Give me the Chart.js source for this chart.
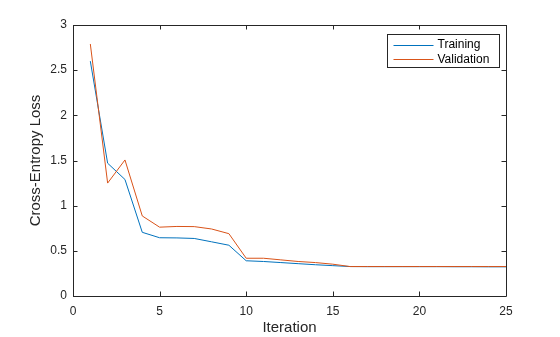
<!DOCTYPE html>
<html>
<head>
<meta charset="utf-8">
<script src="https://cdn.jsdelivr.net/npm/chart.js@4"></script>
<style>
  html, body { margin: 0; padding: 0; background: #ffffff; }
  #lossChart { display: block; }
</style>
</head>
<body>
<canvas id="lossChart" width="560" height="337"></canvas>
<script>
// loss per iteration
var iteraciones = [1, 2, 3, 4, 5, 6, 7, 8, 9, 10, 11, 12, 13, 14, 15, 16, 17, 18, 19, 20, 21, 22, 23, 24, 25];
var perdidaTraining = [2.60, 1.47, 1.29, 0.705, 0.645, 0.643, 0.637, 0.600, 0.562, 0.390, 0.382, 0.370, 0.358, 0.346, 0.336, 0.326, 0.325, 0.325, 0.325, 0.325, 0.325, 0.324, 0.324, 0.323, 0.323];
var perdidaValidation = [2.79, 1.25, 1.506, 0.886, 0.762, 0.770, 0.768, 0.742, 0.690, 0.418, 0.418, 0.400, 0.382, 0.370, 0.352, 0.326, 0.326, 0.326, 0.326, 0.326, 0.326, 0.326, 0.326, 0.326, 0.326];
var ticksX = [0, 5, 10, 15, 20, 25];
var ticksY = [0, 0.5, 1, 1.5, 2, 2.5, 3];

var colorTexto = '#262626';
var fuente = 'Liberation Sans, Arial, Helvetica, sans-serif';

function puntos(valores) {
    return iteraciones.map((it, i) => ({ x: it, y: valores[i] }));
}

// caja de ejes, marcas hacia dentro y leyenda estilo MATLAB
var cajaEjes = {
    id: 'cajaEjes',
    afterDraw: function (chart) {
        var ctx = chart.ctx;
        var a = chart.chartArea;
        var sx = chart.scales.x;
        var sy = chart.scales.y;
        var largo = 4.5;

        ctx.save();
        ctx.strokeStyle = colorTexto;
        ctx.lineWidth = 1;
        ctx.beginPath();
        ctx.rect(Math.round(a.left) + 0.5, Math.round(a.top) + 0.5,
                 Math.round(a.right - a.left), Math.round(a.bottom - a.top));

        ticksX.forEach(function (v) {
            var px = Math.round(sx.getPixelForValue(v)) + 0.5;
            ctx.moveTo(px, a.bottom);
            ctx.lineTo(px, a.bottom - largo);
            ctx.moveTo(px, a.top);
            ctx.lineTo(px, a.top + largo);
        });
        ticksY.forEach(function (v) {
            var py = Math.round(sy.getPixelForValue(v)) + 0.5;
            ctx.moveTo(a.left, py);
            ctx.lineTo(a.left + largo, py);
            ctx.moveTo(a.right, py);
            ctx.lineTo(a.right - largo, py);
        });
        ctx.stroke();

        // leyenda
        var ancho = 112, alto = 33;
        var lx = Math.round(a.right - 7 - ancho) + 0.5;
        var ly = Math.round(a.top + 9) + 0.5;
        ctx.fillStyle = '#ffffff';
        ctx.fillRect(lx, ly, ancho, alto);
        ctx.strokeStyle = colorTexto;
        ctx.strokeRect(lx, ly, ancho, alto);

        ctx.font = '12px ' + fuente;
        ctx.textBaseline = 'middle';
        ctx.textAlign = 'left';
        chart.data.datasets.forEach(function (ds, i) {
            var y = ly + 10 + i * 14.5;
            ctx.strokeStyle = ds.borderColor;
            ctx.beginPath();
            ctx.moveTo(lx + 6, Math.round(y) + 0.5);
            ctx.lineTo(lx + 46, Math.round(y) + 0.5);
            ctx.stroke();
            ctx.fillStyle = '#000000';
            ctx.fillText(ds.label, lx + 50, y + 0.5);
        });
        ctx.restore();
    }
};

var ctx = document.getElementById('lossChart').getContext('2d');
var chart = new Chart(ctx, {
    type: 'line',
    data: {
        datasets: [{
                label: 'Training',
                data: puntos(perdidaTraining),
                borderColor: '#0072BD',
                borderWidth: 1,
                order: 1
            }, {
                label: 'Validation',
                data: puntos(perdidaValidation),
                borderColor: '#D95319',
                borderWidth: 1,
                order: 0
            }]
    },
    options: {
        responsive: false,
        animation: false,
        devicePixelRatio: 1,
        layout: {
            padding: { left: 0, top: 25, right: 54, bottom: 0 }
        },
        elements: {
            point: { radius: 0 },
            line: { tension: 0, fill: false }
        },
        plugins: {
            legend: { display: false },
            tooltip: { enabled: false }
        },
        scales: {
            x: {
                type: 'linear',
                min: 0,
                max: 25,
                afterFit: function (scale) { scale.height = 41; },
                afterBuildTicks: function (scale) {
                    scale.ticks = ticksX.map((v) => ({ value: v }));
                },
                grid: { display: false, drawTicks: false },
                border: { display: false },
                ticks: {
                    color: colorTexto,
                    font: { family: fuente, size: 12 },
                    padding: 8,
                    maxRotation: 0,
                    callback: (v) => String(v)
                },
                title: {
                    display: true,
                    text: 'Iteration',
                    color: colorTexto,
                    font: { family: fuente, size: 15 },
                    padding: { top: 0, bottom: 0 }
                }
            },
            y: {
                type: 'linear',
                min: 0,
                max: 3,
                afterFit: function (scale) { scale.width = 73; },
                afterBuildTicks: function (scale) {
                    scale.ticks = ticksY.map((v) => ({ value: v }));
                },
                grid: { display: false, drawTicks: false },
                border: { display: false },
                ticks: {
                    color: colorTexto,
                    font: { family: fuente, size: 12 },
                    padding: 6,
                    callback: (v) => String(v)
                },
                title: {
                    display: true,
                    text: 'Cross-Entropy Loss',
                    color: colorTexto,
                    font: { family: fuente, size: 15 },
                    padding: { top: 27, bottom: 0 }
                }
            }
        }
    },
    plugins: [cajaEjes]
});
</script>
</body>
</html>
